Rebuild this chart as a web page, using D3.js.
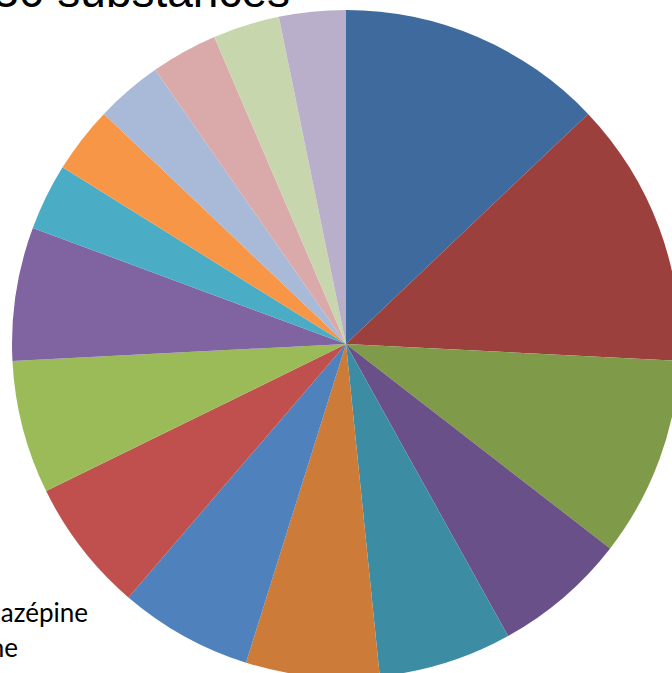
<!DOCTYPE html>
<html><head><meta charset="utf-8">
<script src="https://cdn.jsdelivr.net/npm/d3@7"></script>
<style>html,body{margin:0;padding:0;background:#fff;overflow:hidden}</style>
</head><body>
<svg id="c" width="672" height="673"></svg>
<script>
const categories = ["S1","S2","S3","S4","S5","S6","S7","S8","S9","S10","S11","S12","S13","S14","S15","S16"];
const values = [4,4,3,2,2,2,2,2,2,2,1,1,1,1,1,1];
const colors = ["#3E6A9E","#9C403E","#7F9A48","#6A5089","#3C8DA3","#CC7B38",
                "#4F81BD","#C0504D","#9BBB59","#8064A2","#4BACC6","#F79646",
                "#A9B9D8","#D9AAA9","#C7D6AD","#B9AFCB"];
const titleText = "Répartition sur 30 substances";
const legendLabels = ["Carbamazépine","Caféine"];

const svg = d3.select("#c");
const cx = 346, cy = 344, r = 334;
const pie = d3.pie().sort(null).value(d => d)(values);
const arc = d3.arc().innerRadius(0).outerRadius(r);
const g = svg.append("g").attr("transform", `translate(${cx},${cy})`);
g.selectAll("path").data(pie).join("path")
  .attr("d", arc)
  .attr("fill", (d,i) => colors[i]);

svg.append("text").attr("x", 290).attr("y", 7).attr("text-anchor","end")
  .attr("font-family","'Liberation Sans', Arial, sans-serif").attr("font-size",46)
  .attr("fill","#000").text(titleText);

const leg = svg.append("g");
const ends = [88, 18];
leg.selectAll("text").data(legendLabels).join("text")
  .attr("x", (d,i) => ends[i]).attr("y", (d,i) => 622 + i*35)
  .attr("text-anchor","end")
  .attr("font-family","Lato, 'Open Sans', sans-serif").attr("font-size",26)
  .attr("fill","#000").text(d => d);
</script>
</body></html>
